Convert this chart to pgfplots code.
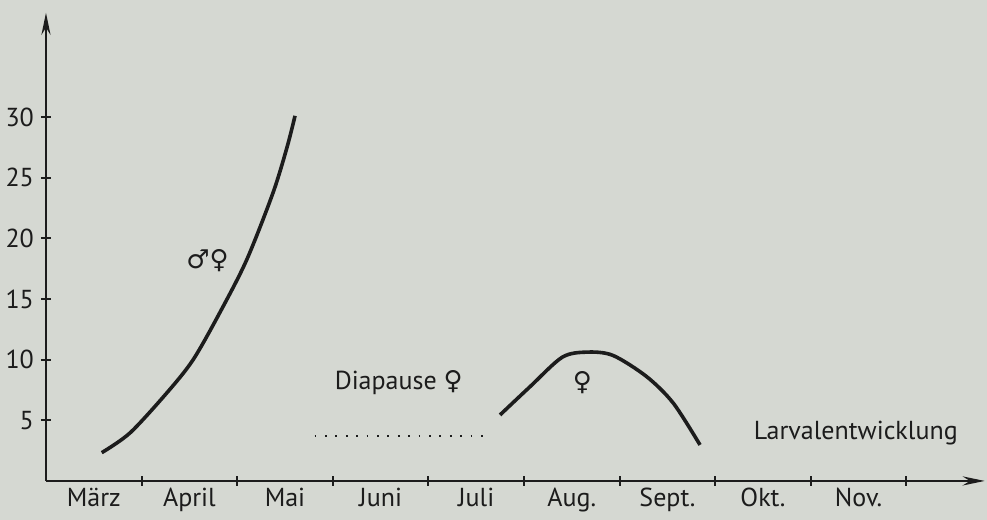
\documentclass[border=0pt]{standalone}
\usepackage{pgfplots}
\pgfplotsset{compat=1.18}
\usepackage{fontspec}
\setmainfont{PT Sans}
\newfontfamily\sym{DejaVu Sans}
\usetikzlibrary{arrows.meta,backgrounds}
\definecolor{bg}{RGB}{213,216,210}
\definecolor{ink}{RGB}{28,28,28}
\begin{document}
\begin{tikzpicture}
\begin{axis}[
  scale only axis, width=469.4pt, height=234.1pt,
  xmin=0, xmax=9.82, ymin=0, ymax=38.6,
  axis lines=left,
  axis line style={ink, line width=1.4pt},
  x axis line style={-{Stealth[length=11pt,width=4.5pt]}},
  y axis line style={-{Stealth[length=11pt,width=4.5pt]}},
  xtick={1,...,9}, xticklabels={},
  extra x ticks={0.5,1.5,2.5,3.5,4.5,5.5,6.5,7.5,8.5},
  extra x tick labels={März,April,Mai,Juni,Juli,Aug.,Sept.,Okt.,Nov.},
  extra x tick style={major tick length=0pt, tick style={draw=none}},
  ytick={5,10,15,20,25,30},
  tick align=center, major tick length=5pt,
  tick style={ink, line width=1pt},
  ticklabel style={font=\fontsize{13}{15}\selectfont, text=ink},
  /pgf/number format/assume math mode=true,
  clip=false,
]
\addplot[ink, line width=1.8pt, smooth] coordinates {
  (0.583,2.33) (0.879,3.96) (1.263,7.25) (1.538,9.98) (1.820,13.9)
  (2.099,18.22) (2.374,23.74) (2.521,27.5) (2.605,30.1)};
\addplot[ink, line width=1.1pt, dash pattern=on 0.9pt off 4.3pt] coordinates {
  (2.81,3.71) (4.57,3.71)};
\addplot[ink, line width=1.8pt, smooth] coordinates {
  (4.749,5.44) (5.063,7.77) (5.40,10.2) (5.66,10.62) (5.93,10.35)
  (6.283,8.60) (6.562,6.41) (6.841,2.97)};
\node[text=ink, font=\fontsize{13}{15}\selectfont] at (axis cs:1.69,18.2) {\sym ♂♀};
\node[text=ink, font=\fontsize{13}{15}\selectfont] at (axis cs:3.69,8.1) {Diapause {\sym ♀}};
\node[text=ink, font=\fontsize{13}{15}\selectfont] at (axis cs:5.61,8.1) {\sym ♀};
\node[text=ink, font=\fontsize{13}{15}\selectfont] at (axis cs:8.47,3.96) {Larvalentwicklung};
\coordinate (BL) at (axis cs:-0.481,-3.215);
\coordinate (TR) at (axis cs:9.843,39.65);
\end{axis}
\pgfresetboundingbox
\path[use as bounding box] (BL) rectangle (TR);
\begin{scope}[on background layer]
\fill[bg] (BL) rectangle (TR);
\end{scope}
\end{tikzpicture}
\end{document}
